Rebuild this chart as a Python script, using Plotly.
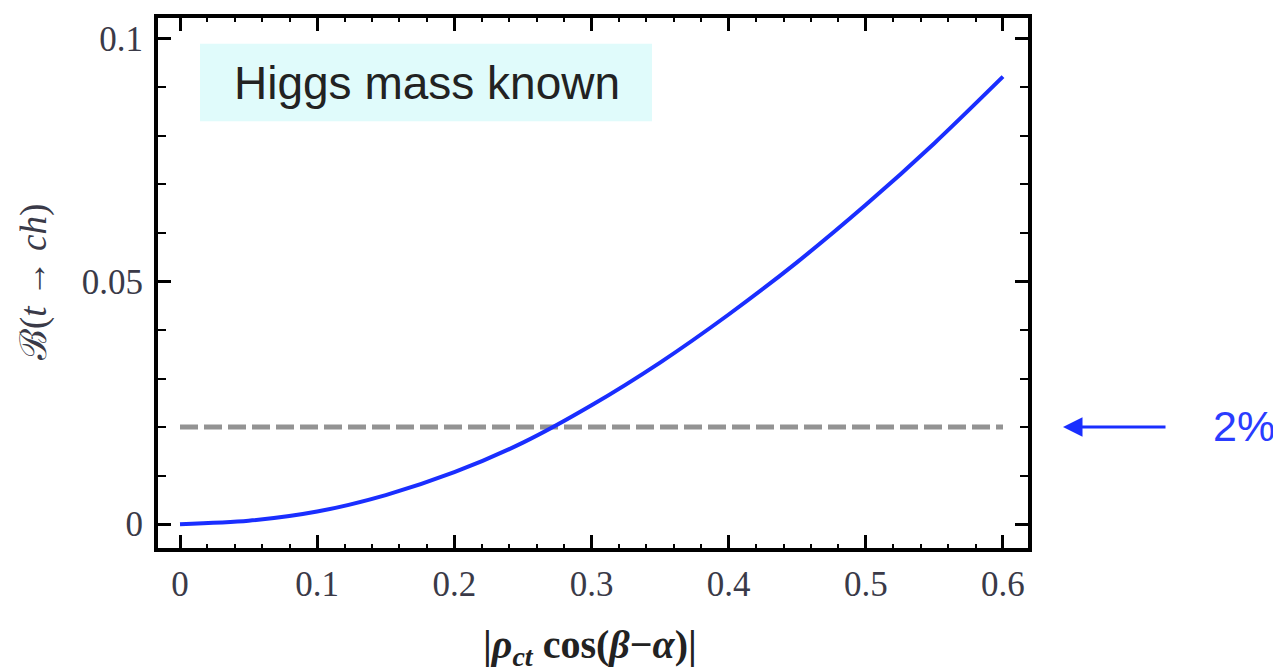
import plotly.graph_objects as go

# data
x_vals = [0, 0.05, 0.1, 0.15, 0.2, 0.25, 0.3, 0.35, 0.4, 0.45, 0.5, 0.55, 0.6]
b_vals = [0, 0.0007, 0.0026, 0.006, 0.0107, 0.0168, 0.0245, 0.0333, 0.0432, 0.054, 0.0658, 0.0785, 0.0922]
ref_x = [0, 0.6]
ref_y = [0.02, 0.02]
x_ticks = [0, 0.1, 0.2, 0.3, 0.4, 0.5, 0.6]
x_ticklabels = ["0", "0.1", "0.2", "0.3", "0.4", "0.5", "0.6"]
y_ticks = [0, 0.05, 0.1]
y_ticklabels = ["0", "0.05", "0.1"]

# page body has an 8px margin; figure is sized so that it fits the window
OFF = 8
W, H = 1281 - OFF, 672 - OFF
AX0, AX1, AY0, AY1 = 158, 1028, 14, 548  # plot area in window pixels
L, R = AX0 - OFF, W - (AX1 - OFF)
T, B = AY0 - OFF, H - (AY1 - OFF)
pw, ph = AX1 - AX0, AY1 - AY0

def px(xs):
    return (xs - AX0) / pw

def py(ys):
    return (AY1 - ys) / ph

fig = go.Figure()
fig.add_trace(go.Scatter(x=ref_x, y=ref_y, mode="lines",
                         line=dict(color="#939393", width=5, dash="18px,6px"),
                         showlegend=False, hoverinfo="skip"))
fig.add_trace(go.Scatter(x=x_vals, y=b_vals, mode="lines",
                         line=dict(color="#1a2eff", width=4, shape="spline", smoothing=0.8),
                         showlegend=False))

tickfont = dict(family="Liberation Serif", size=35, color="#3a3a48")
axis_common = dict(showline=True, linecolor="black", linewidth=4, mirror="allticks",
                   ticks="inside", tickcolor="black", tickwidth=3, showgrid=False,
                   zeroline=False, tickfont=tickfont)

fig.update_xaxes(range=[-0.01604, 0.61823], tickvals=x_ticks, ticktext=x_ticklabels,
                 ticklen=13, ticklabelstandoff=2,
                 minor=dict(dtick=0.02, tick0=0, ticklen=4, tickwidth=2,
                            ticks="inside", tickcolor="black"),
                 **axis_common)
fig.update_yaxes(range=[-0.00491, 0.10429], tickvals=y_ticks, ticktext=y_ticklabels,
                 ticklen=13, ticklabelstandoff=4,
                 minor=dict(dtick=0.01, tick0=0, ticklen=8, tickwidth=2,
                            ticks="inside", tickcolor="black"),
                 **axis_common)

fig.add_shape(type="rect", xref="paper", yref="paper",
              x0=px(200), x1=px(652), y0=py(118), y1=py(40),
              fillcolor="#e0fbfb", line=dict(width=0), layer="below")
# arrow pointing at the 2% line
fig.add_annotation(text="", xref="paper", yref="y", x=px(1063), y=0.02,
                   axref="pixel", ayref="pixel", ax=104, ay=0, showarrow=True,
                   arrowhead=2, arrowsize=1.3, arrowwidth=3, arrowcolor="#1a2eff")

annotations = [
    dict(text="Higgs mass known", xref="paper", yref="paper", x=px(232), y=py(79),
         xanchor="left", yanchor="middle", showarrow=False,
         font=dict(family="Liberation Sans", size=46, color="#222222")),
    dict(text="2%", xref="paper", yref="paper", x=px(1211), y=py(425),
         xanchor="left", yanchor="middle", showarrow=False,
         font=dict(family="Liberation Sans", size=43, color="#2a3cff")),
    dict(text="ℬ(<i>t</i> → <i>ch</i>)", xref="paper", yref="paper",
         x=px(34), y=py(280), textangle=-90, showarrow=False,
         xanchor="center", yanchor="middle",
         font=dict(family="Liberation Serif", size=37, color="#3a3a48")),
    dict(text="<b>|<i>ρ</i><sub><i>ct</i></sub> cos(<i>β</i>−<i>α</i>)|</b>",
         xref="paper", yref="paper", x=px(590), y=py(648),
         xanchor="center", yanchor="middle", showarrow=False,
         font=dict(family="Liberation Serif", size=40, color="#222222")),
]

fig.update_layout(width=W, height=H, margin=dict(l=L, r=R, t=T, b=B),
                  paper_bgcolor="white", plot_bgcolor="white",
                  showlegend=False)
for a in annotations:
    fig.add_annotation(**a)

fig.write_html("out.html")
